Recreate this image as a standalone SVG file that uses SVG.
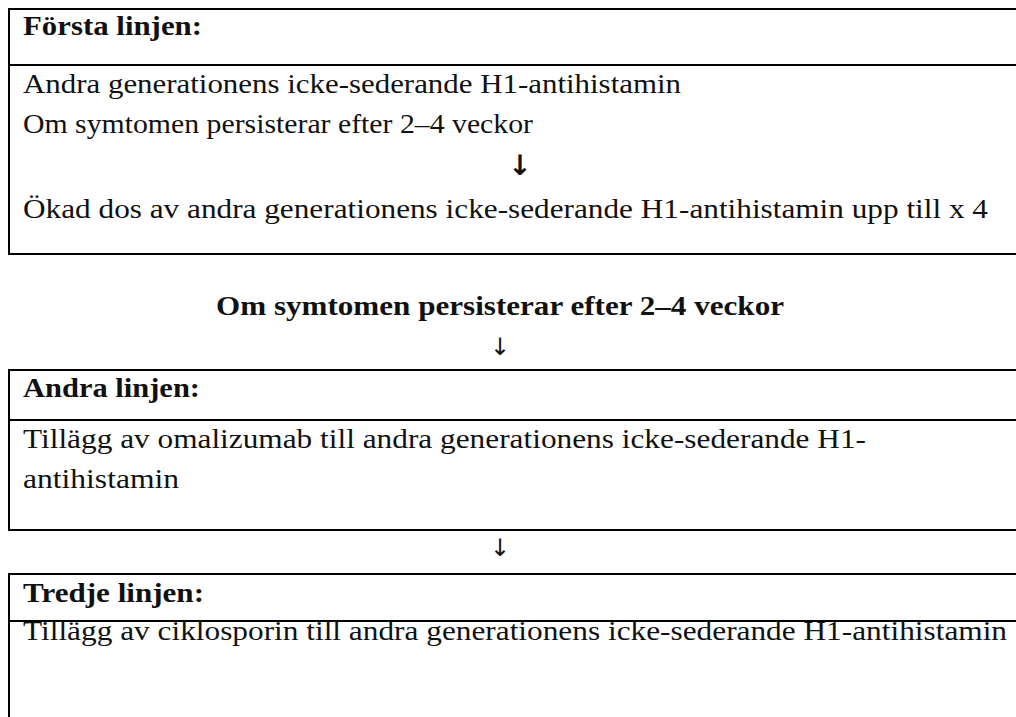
<svg xmlns="http://www.w3.org/2000/svg" width="1016" height="717" viewBox="0 0 1016 717">
<style>
.box{fill:none;stroke:#000;stroke-width:2}
.sep{stroke:#000;stroke-width:2}
.t{font-family:"Liberation Serif","DejaVu Serif",serif;font-size:27px;fill:#111}
.b{font-weight:bold}
.arr{font-family:"DejaVu Sans","Liberation Sans",sans-serif;font-size:24px;fill:#111;text-anchor:middle}
</style>
<rect width="1016" height="717" fill="#fff"/>
<g id="first-line">
<rect class="box" x="9" y="9" width="1020" height="245"/>
<line class="sep" x1="9" y1="65" x2="1030" y2="65"/>
<text class="t b" x="23" y="35" textLength="179" lengthAdjust="spacingAndGlyphs">Första linjen:</text>
<text class="t" x="23" y="93" textLength="658" lengthAdjust="spacingAndGlyphs">Andra generationens icke-sederande H1-antihistamin</text>
<text class="t" x="23" y="133" textLength="510" lengthAdjust="spacingAndGlyphs">Om symtomen persisterar efter 2–4 veckor</text>
<text class="arr b" x="520" y="175" style="font-size:28px">↓</text>
<text class="t" x="23" y="218" textLength="965" lengthAdjust="spacingAndGlyphs">Ökad dos av andra generationens icke-sederande H1-antihistamin upp till x 4</text>
</g>
<g id="heading">
<text class="t b" x="216" y="315" textLength="568" lengthAdjust="spacingAndGlyphs">Om symtomen persisterar efter 2–4 veckor</text>
</g>
<g id="second-line">
<rect class="box" x="9" y="370" width="1020" height="160"/>
<line class="sep" x1="9" y1="420" x2="1030" y2="420"/>
<text class="t b" x="23" y="397" textLength="177" lengthAdjust="spacingAndGlyphs">Andra linjen:</text>
<text class="t" x="23" y="448" textLength="843" lengthAdjust="spacingAndGlyphs">Tillägg av omalizumab till andra generationens icke-sederande H1-</text>
<text class="t" x="23" y="488" textLength="156" lengthAdjust="spacingAndGlyphs">antihistamin</text>
</g>
<g id="third-line">
<rect class="box" x="9" y="574" width="1020" height="160"/>
<line class="sep" x1="9" y1="621" x2="1030" y2="621"/>
<text class="t b" x="23" y="602" textLength="181" lengthAdjust="spacingAndGlyphs">Tredje linjen:</text>
<text class="t" x="23" y="640" textLength="984" lengthAdjust="spacingAndGlyphs">Tillägg av ciklosporin till andra generationens icke-sederande H1-antihistamin</text>
</g>
<g id="connectors">
<text class="arr" x="500" y="355">↓</text>
<text class="arr" x="500" y="556">↓</text>
</g>
</svg>
